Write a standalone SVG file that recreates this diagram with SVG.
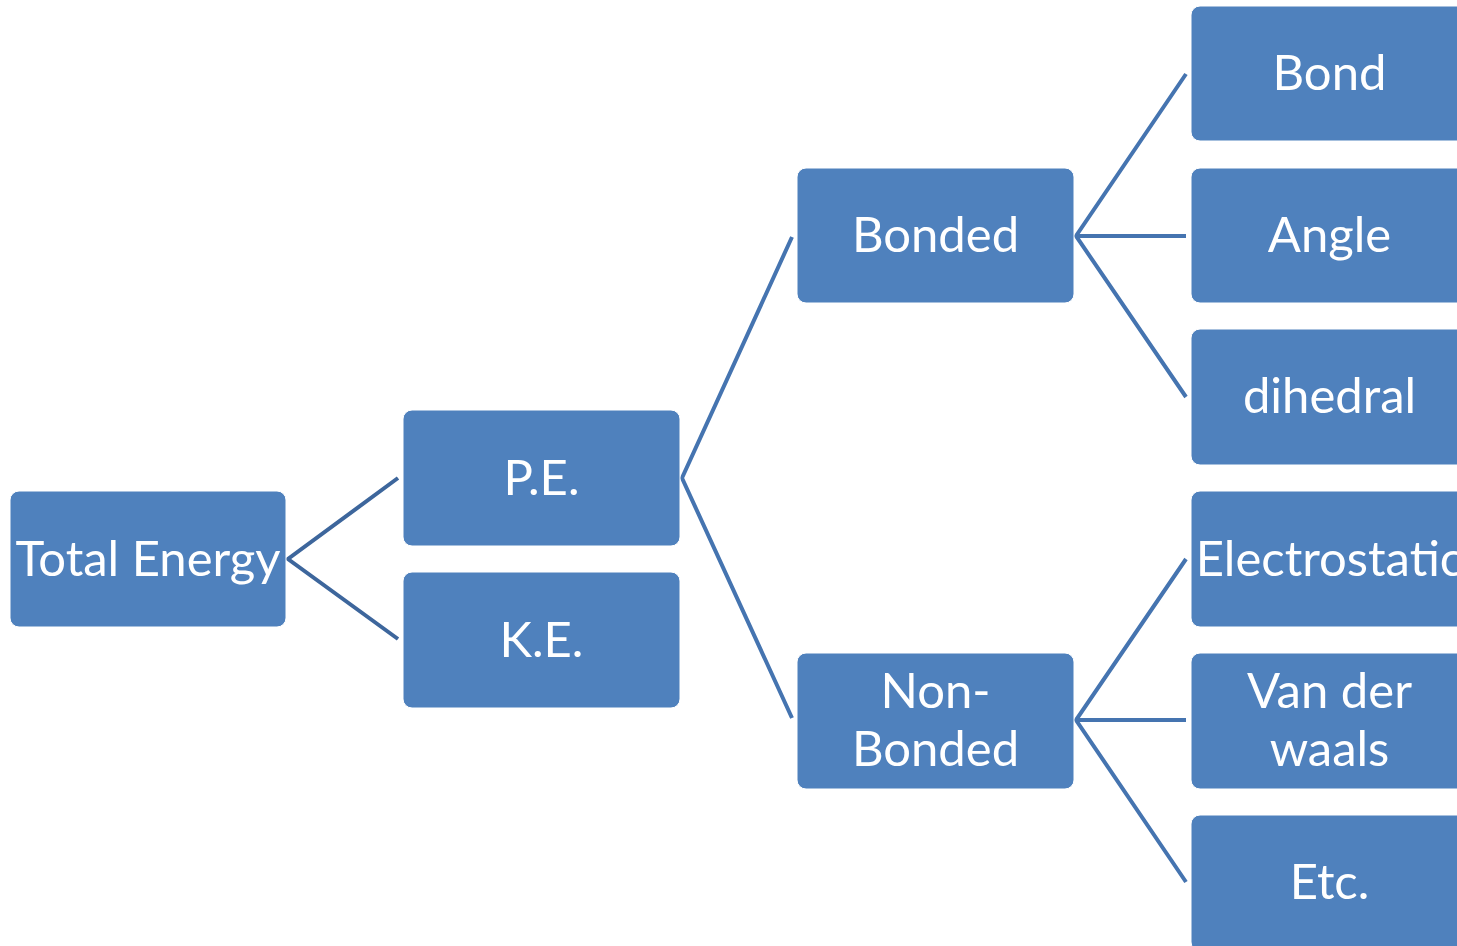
<svg xmlns="http://www.w3.org/2000/svg" width="1457" height="946" viewBox="0 0 1457 946">
<style>
.box{fill:#4F81BD;stroke:#ffffff;stroke-width:1}
.t{font-family:Lato,"Open Sans",sans-serif;font-size:49px;fill:#ffffff;text-anchor:middle}
.c{fill:none;stroke:#4574B0;stroke-width:4}
.c0{stroke:#3D669C}
</style>
<rect width="1457" height="946" fill="#ffffff"/>
<g id="connectors">
<polyline class="c c0" points="398,478 288,559 398,639"/>
<polyline class="c" points="792,237 682,478 792,718"/>
<polyline class="c" points="1186,74 1076,236 1186,397"/>
<line class="c" x1="1076" y1="236" x2="1186" y2="236"/>
<polyline class="c" points="1186,559 1076,720 1186,882"/>
<line class="c" x1="1076" y1="720" x2="1186" y2="720"/>
</g>
<g id="total-energy"><rect class="box" x="10" y="491" width="276" height="136" rx="9"/><text class="t" x="148" y="576">Total Energy</text></g>
<g id="pe"><rect class="box" x="403" y="410" width="277" height="136" rx="9"/><text class="t" x="541.5" y="495">P.E.</text></g>
<g id="ke"><rect class="box" x="403" y="572" width="277" height="136" rx="9"/><text class="t" x="541.5" y="657">K.E.</text></g>
<g id="bonded"><rect class="box" x="797" y="168" width="277" height="135" rx="9"/><text class="t" x="935.5" y="252">Bonded</text></g>
<g id="non-bonded"><rect class="box" x="797" y="653" width="277" height="136" rx="9"/><text class="t" x="935.5" y="708">Non-</text><text class="t" x="935.5" y="766">Bonded</text></g>
<g id="bond"><rect class="box" x="1191" y="6" width="277" height="135" rx="9"/><text class="t" x="1329.5" y="90">Bond</text></g>
<g id="angle"><rect class="box" x="1191" y="168" width="277" height="135" rx="9"/><text class="t" x="1329.5" y="252">Angle</text></g>
<g id="dihedral"><rect class="box" x="1191" y="329" width="277" height="136" rx="9"/><text class="t" x="1329.5" y="413">dihedral</text></g>
<g id="electrostatic"><rect class="box" x="1191" y="491" width="277" height="136" rx="9"/><text class="t" x="1329.5" y="576">Electrostatic</text></g>
<g id="van-der-waals"><rect class="box" x="1191" y="653" width="277" height="136" rx="9"/><text class="t" x="1329.5" y="708">Van der</text><text class="t" x="1329.5" y="766">waals</text></g>
<g id="etc"><rect class="box" x="1191" y="815" width="277" height="136" rx="9"/><text class="t" x="1329.5" y="899">Etc.</text></g>
</svg>
